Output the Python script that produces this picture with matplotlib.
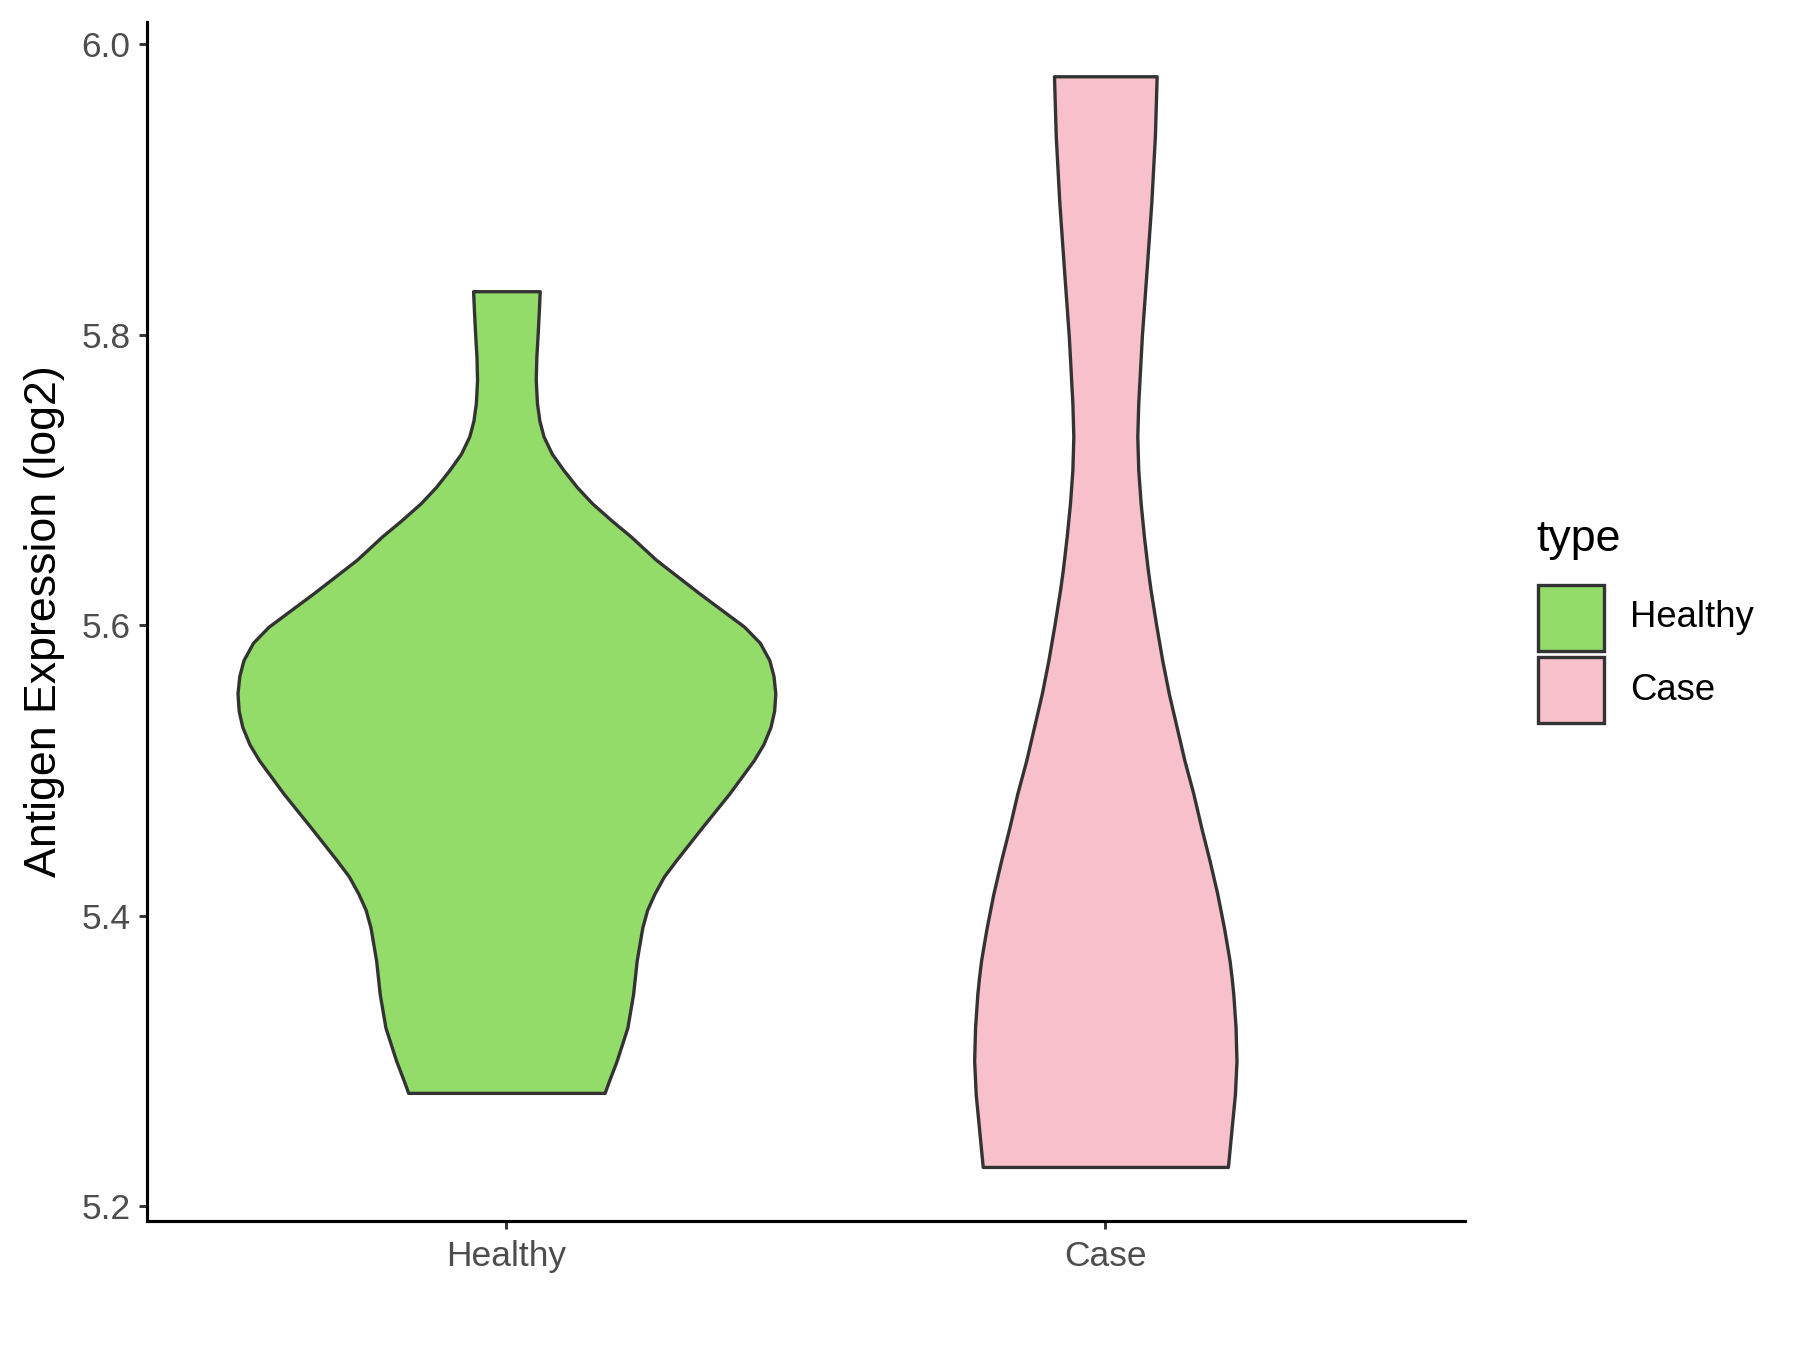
import numpy as np
import matplotlib.pyplot as plt
from matplotlib.patches import Rectangle

plt.rcParams['font.family'] = ['Liberation Sans', 'DejaVu Sans']

# 类别和颜色
groups = ['Healthy', 'Case']
fills = ['#93DC6A', '#F7C0CB']
edge = '#333333'

# 小提琴轮廓：纵轴值 和 半宽（x 轴单位）
healthy_y = [5.830, 5.815, 5.799, 5.785, 5.769, 5.753, 5.741, 5.730, 5.718, 5.707,
             5.695, 5.684, 5.672, 5.661, 5.645, 5.622, 5.599, 5.588, 5.576, 5.565,
             5.553, 5.541, 5.530, 5.518, 5.507, 5.484, 5.461, 5.438, 5.427, 5.415,
             5.404, 5.392, 5.380, 5.369, 5.346, 5.323, 5.300, 5.286, 5.278]
healthy_w = [0.0556, 0.054, 0.052, 0.050, 0.049, 0.051, 0.055, 0.062, 0.076, 0.095,
             0.118, 0.143, 0.176, 0.208, 0.250, 0.322, 0.397, 0.423, 0.439, 0.446,
             0.449, 0.447, 0.441, 0.429, 0.413, 0.372, 0.327, 0.283, 0.263, 0.247,
             0.235, 0.227, 0.222, 0.2175, 0.2115, 0.202, 0.184, 0.171, 0.164]

case_y = [5.978, 5.937, 5.891, 5.845, 5.799, 5.753, 5.730, 5.707, 5.684, 5.661,
          5.638, 5.624, 5.600, 5.576, 5.553, 5.530, 5.507, 5.484, 5.461, 5.438,
          5.415, 5.392, 5.380, 5.369, 5.357, 5.346, 5.323, 5.300, 5.277, 5.254,
          5.227]
case_w = [0.0857, 0.0828, 0.0768, 0.069, 0.061, 0.055, 0.0534, 0.055, 0.059, 0.0645,
          0.071, 0.0757, 0.085, 0.095, 0.106, 0.119, 0.132, 0.147, 0.160, 0.174,
          0.187, 0.198, 0.203, 0.2075, 0.211, 0.2137, 0.2175, 0.219, 0.2164, 0.211,
          0.2047]

profiles = [(healthy_y, healthy_w), (case_y, case_w)]

fig = plt.figure(figsize=(12, 9), dpi=150)
ax = fig.add_axes([0.0817, 0.0952, 0.732, 0.8887])

for i, (yy, ww) in enumerate(profiles):
    yy = np.array(yy)
    ww = np.array(ww)
    pos = i + 1
    ax.fill_betweenx(yy, pos - ww, pos + ww, facecolor=fills[i], edgecolor=edge,
                     linewidth=1.6, joinstyle='round')

# ggplot 风格的坐标范围（5% 扩展）
lo = min(min(healthy_y), min(case_y))
hi = max(max(healthy_y), max(case_y))
pad = 0.05 * (hi - lo)
ax.set_ylim(lo - pad, hi + pad)
ax.set_xlim(0.4, 2.6)

ax.set_xticks([1, 2])
ax.set_xticklabels(groups)
ax.set_yticks([5.2, 5.4, 5.6, 5.8, 6.0])
ax.set_yticklabels(['5.2', '5.4', '5.6', '5.8', '6.0'])
ax.tick_params(axis='both', length=4, width=1.4, color=edge, labelcolor='#4D4D4D',
               labelsize=17)
ax.tick_params(axis='x', pad=5)
ax.tick_params(axis='y', pad=4)

for s in ['top', 'right']:
    ax.spines[s].set_visible(False)
for s in ['left', 'bottom']:
    ax.spines[s].set_linewidth(1.5)
    ax.spines[s].set_color('black')

ax.set_ylabel('Antigen Expression (log2)', fontsize=21.5, color='black', labelpad=8)

# 图例
fig.text(1536 / 1800, 0.600, 'type', fontsize=21.5, color='black', va='center', ha='left')
box_w = 66 / 1800
box_h = 66 / 1350
for i, g in enumerate(groups):
    y0 = 1 - (651 + i * 72) / 1350
    fig.patches.append(Rectangle((1538 / 1800, y0), box_w, box_h,
                                 transform=fig.transFigure, facecolor=fills[i],
                                 edgecolor=edge, linewidth=1.6))
    fig.text(1630 / 1800, y0 + box_h / 2, g, fontsize=17.5, color='black',
             va='center', ha='left')

fig.savefig('out.png', dpi=150)
